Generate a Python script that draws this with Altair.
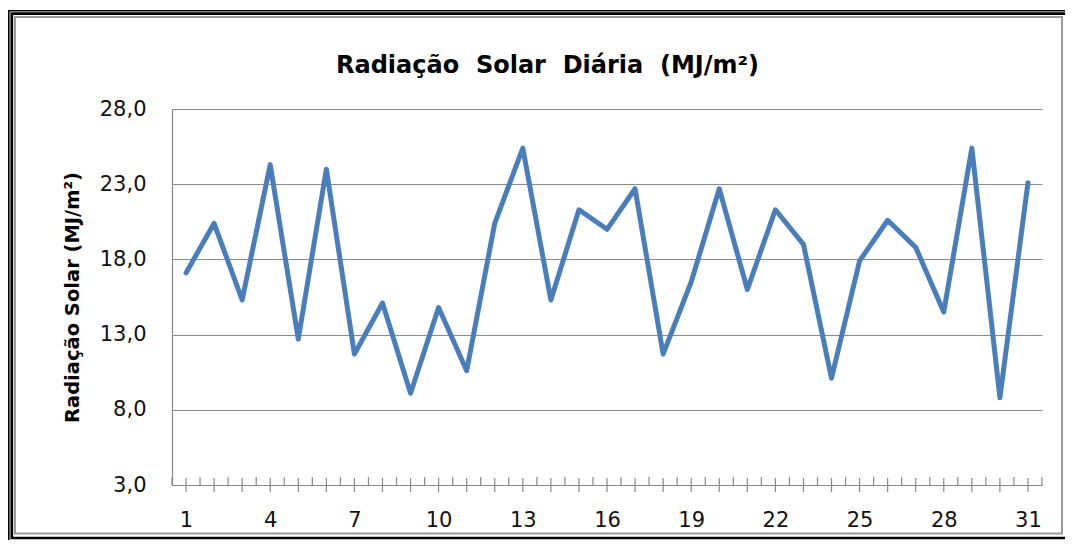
import altair as alt
import pandas as pd

days = list(range(1, 32))
radiacao = [17.1, 20.4, 15.3, 24.3, 12.7, 24.0, 11.7, 15.1, 9.1, 14.8,
            10.6, 20.4, 25.4, 15.3, 21.3, 20.0, 22.7, 11.7, 16.5, 22.7,
            16.0, 21.3, 19.0, 10.1, 17.9, 20.6, 18.8, 14.5, 25.4, 8.8, 23.1]
y_ticks = [3, 8, 13, 18, 23, 28]
x_label_days = [1, 4, 7, 10, 13, 16, 19, 22, 25, 28, 31]
title_text = "Radiação\u00a0 Solar\u00a0 Diária\u00a0 (MJ/m²)"
y_title = "Radiação Solar (MJ/m²)"

W, H = 870, 376
PL, PT = 164, 101
TOTAL_W, TOTAL_H = 1057, 532

df = pd.DataFrame({"dia": days, "valor": radiacao})
center_ticks = pd.DataFrame({"p": days})
boundary_ticks = pd.DataFrame({"p": [d - 0.5 for d in days] + [days[-1] + 0.5]})
one = pd.DataFrame({"k": [0]})

FONT = "DejaVu Sans"
xscale = alt.Scale(domain=[0.5, 31.5], nice=False, zero=False)
yscale = alt.Scale(domain=[3, 28], nice=False, zero=False)

line = alt.Chart(df).mark_line(color="#4a7ebb", strokeWidth=5,
                               strokeJoin="round", strokeCap="round").encode(
    x=alt.X("dia:Q", scale=xscale,
            axis=alt.Axis(values=x_label_days, title=None, grid=False,
                          ticks=False, tickSize=0, labelPadding=41,
                          labelBaseline="alphabetic", labelFont=FONT,
                          labelFontSize=21, labelColor="#111111",
                          domainColor="#888888", domainWidth=1.2,
                          labelFlush=False, labelOverlap=False)),
    y=alt.Y("valor:Q", scale=yscale,
            axis=alt.Axis(values=y_ticks, title=y_title, grid=True,
                          gridColor="#8a8a8a", gridWidth=1.2,
                          ticks=False, tickSize=0, labelPadding=26,
                          labelExpr="replace(format(datum.value, '.1f'), '.', ',')",
                          labelFont=FONT, labelFontSize=21, labelColor="#111111",
                          domainColor="#888888", domainWidth=1.2,
                          labelFlush=False, labelOverlap=False,
                          titleFont=FONT, titleFontSize=19.5, titleFontWeight="bold",
                          titleColor="#000000", titleAngle=270, titleX=-100,
                          titleY=H / 2, titleAlign="center",
                          titleBaseline="middle")),
)

ticks_c = alt.Chart(center_ticks).mark_rule(color="#888888", strokeWidth=1.2).encode(
    x=alt.X("p:Q", scale=xscale), y=alt.value(H - 7), y2=alt.value(H + 7))
ticks_b = alt.Chart(boundary_ticks).mark_rule(color="#888888", strokeWidth=1.2).encode(
    x=alt.X("p:Q", scale=xscale), y=alt.value(H - 8), y2=alt.value(H))

title = alt.Chart(one).mark_text(text=title_text, font=FONT, fontSize=24,
                                 fontWeight="bold", color="#000000",
                                 align="center", baseline="alphabetic").encode(
    x=alt.value(375.5), y=alt.value(-36))

frame_a = alt.Chart(one).mark_rect(filled=False, stroke="#000000", strokeWidth=1.6).encode(
    x=alt.value(-163.2), y=alt.value(-98.3), x2=alt.value(936), y2=alt.value(499))
frame_b = alt.Chart(one).mark_rect(filled=False, stroke="#000000", strokeWidth=2.7).encode(
    x=alt.value(-160.2), y=alt.value(-95.3), x2=alt.value(936), y2=alt.value(429))
frame_c = alt.Chart(one).mark_rect(filled=False, stroke="#999999", strokeWidth=2).encode(
    x=alt.value(-157), y=alt.value(-92), x2=alt.value(890), y2=alt.value(424.5))

chart = alt.layer(frame_a, frame_b, frame_c, ticks_b, ticks_c, line, title).properties(
    width=W, height=H,
    autosize=alt.AutoSizeParams(type="none"),
    padding={"left": PL, "top": PT, "right": TOTAL_W - PL - W, "bottom": TOTAL_H - PT - H},
    background="white",
).configure_view(stroke=None)

chart.save("out.html", embed_options={"renderer": "svg", "actions": False})
